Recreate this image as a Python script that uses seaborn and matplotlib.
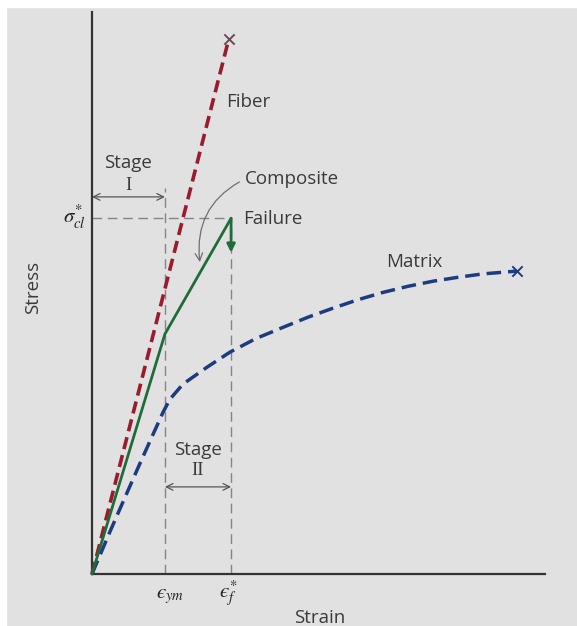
import matplotlib
matplotlib.use('Agg')
import matplotlib.pyplot as plt
import seaborn as sns
from matplotlib.patches import Rectangle

# Datos (unidades arbitrarias de deformación / tensión)
fiber_strain = [0.0, 3.02]
fiber_stress = [0.0, 9.52]

comp_strain = [0.0, 1.61, 3.07]
comp_stress = [0.0, 4.27, 6.33]
failure_drop_stress = 5.72

matrix_strain = [0.0, 0.40, 0.77, 1.06, 1.35, 1.57, 1.72, 2.01, 2.54, 3.05, 3.62,
                 4.22, 4.77, 5.32, 5.87, 6.42, 6.98, 7.53, 8.08, 8.63, 9.38]
matrix_stress = [0.0, 0.76, 1.44, 1.97, 2.49, 2.88, 3.11, 3.38, 3.68, 3.95, 4.19,
                 4.39, 4.57, 4.73, 4.88, 5.01, 5.12, 5.21, 5.28, 5.34, 5.39]

eps_ym = 1.61
eps_f = 3.07
sigma_cl = 6.33
eps_ym_top = 6.87
stage1_y = 6.71
stage2_y = 1.55

BG = '#e1e1e1'
RED = '#9c1a2e'
GREEN = '#1f6b3a'
BLUE = '#1d3b80'
GUIDE = '#858585'
INK = '#333333'

sns.set_theme(style='white')
plt.rcParams['font.family'] = ['Open Sans', 'DejaVu Sans']
plt.rcParams['mathtext.fontset'] = 'stix'

fig = plt.figure(figsize=(5.77, 6.26), dpi=100, facecolor=BG)
# bordes blancos (arriba e izquierda)
fig.patches.append(Rectangle((0, 0), 6 / 577, 1, transform=fig.transFigure, color='white', zorder=0))
fig.patches.append(Rectangle((0, 1 - 7 / 626), 1, 7 / 626, transform=fig.transFigure, color='white', zorder=0))

ax = fig.add_axes([92 / 577, 52 / 626, 453 / 577, 562 / 626])
ax.set_facecolor(BG)
ax.set_xlim(0, 10)
ax.set_ylim(0, 10)
for s in ['top', 'right']:
    ax.spines[s].set_visible(False)
for s in ['left', 'bottom']:
    ax.spines[s].set_color(INK)
    ax.spines[s].set_linewidth(1.6)
ax.set_xticks([])
ax.set_yticks([])
ax.set_xlabel('')
ax.set_ylabel('')

# líneas guía discontinuas
guide = dict(color=GUIDE, lw=1.0, linestyle=(0, (7, 4)), zorder=1)
ax.plot([0, eps_f], [sigma_cl, sigma_cl], **guide)
ax.plot([eps_ym, eps_ym], [0, eps_ym_top], **guide)
ax.plot([eps_f, eps_f], [0, sigma_cl], **guide)

# curvas
sns.lineplot(x=fiber_strain, y=fiber_stress, ax=ax, color=RED, lw=2.6,
             linestyle=(0, (3.4, 1.7)), sort=False, estimator=None, clip_on=False, zorder=3)
sns.lineplot(x=matrix_strain, y=matrix_stress, ax=ax, color=BLUE, lw=2.5,
             linestyle=(0, (4.2, 2.0)), sort=False, estimator=None, clip_on=False, zorder=3)
sns.lineplot(x=comp_strain, y=comp_stress, ax=ax, color=GREEN, lw=2.0,
             sort=False, estimator=None, clip_on=False, zorder=4)

sns.scatterplot(x=[fiber_strain[-1]], y=[fiber_stress[-1]], ax=ax, marker='x',
                s=55, color='#6b4a55', linewidth=1.4, zorder=5)
sns.scatterplot(x=[matrix_strain[-1]], y=[matrix_stress[-1]], ax=ax, marker='x',
                s=55, color=BLUE, linewidth=1.4, zorder=5)

# caída en la falla
ax.annotate('', xy=(eps_f, failure_drop_stress), xytext=(eps_f, sigma_cl),
            arrowprops=dict(arrowstyle='-|>', color=GREEN, lw=2.0, mutation_scale=12,
                            shrinkA=0, shrinkB=0), zorder=5)

# flechas de etapas
stage_arrow = dict(arrowstyle='<->', color='#555555', lw=0.9, mutation_scale=12,
                   shrinkA=0, shrinkB=0)
ax.annotate('', xy=(0, stage1_y), xytext=(eps_ym, stage1_y), arrowprops=stage_arrow)
ax.annotate('', xy=(eps_ym, stage2_y), xytext=(eps_f, stage2_y), arrowprops=stage_arrow)

txt = dict(color='#3a3a3a', fontsize=13.5)
ax.text(eps_ym / 2, 7.31, 'Stage', ha='center', va='center', **txt)
ax.text(eps_ym / 2, 6.92, 'I', ha='center', va='center', family='Liberation Serif', **txt)
ax.text((eps_ym + eps_f) / 2, 2.21, 'Stage', ha='center', va='center', **txt)
ax.text((eps_ym + eps_f) / 2, 1.85, 'II', ha='center', va='center', family='Liberation Serif', **txt)

ax.text(2.97, 8.40, 'Fiber', ha='left', va='center', **txt)
ax.text(3.33, 6.32, 'Failure', ha='left', va='center', **txt)
ax.text(7.11, 5.55, 'Matrix', ha='center', va='center', **txt)
ax.annotate('Composite', xy=(2.38, 5.55), xytext=(3.38, 7.03), ha='left', va='center',
            arrowprops=dict(arrowstyle='->', color='#6f6f6f', lw=0.9,
                            connectionstyle='arc3,rad=0.35', shrinkA=2, shrinkB=0,
                            relpos=(0, 0.5)),
            **txt)

# etiquetas matemáticas
fig.text(86 / 577, 1 - 217 / 626, r'$\sigma_{cl}^{*}$', ha='right', va='center', fontsize=15, color='#222222')
fig.text(170 / 577, 1 - 595 / 626, '$\u03f5_{ym}$', ha='center', va='center', fontsize=15, color='#222222')
fig.text(228 / 577, 1 - 594 / 626, '$\u03f5_{f}^{*}$', ha='center', va='center', fontsize=15, color='#222222')

fig.text(33 / 577, 1 - 287 / 626, 'Stress', rotation=90, ha='center', va='center', **txt)
fig.text(320 / 577, 1 - 618 / 626, 'Strain', ha='center', va='center', **txt)

fig.savefig('out.png', dpi=100, facecolor=fig.get_facecolor())
